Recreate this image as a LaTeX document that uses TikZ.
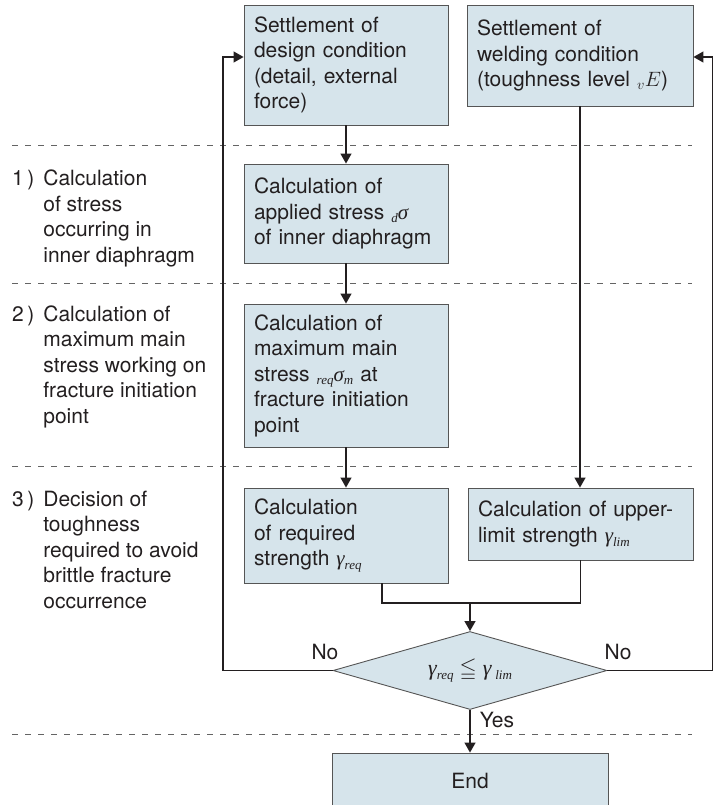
\documentclass[tikz,border=0pt]{standalone}
\usepackage{fontspec}
\usepackage{amssymb}
\setmainfont{TeX Gyre Heros}
\newfontfamily\tmsfont{Liberation Serif}
\usetikzlibrary{shapes.geometric,arrows.meta}
\definecolor{boxfill}{RGB}{214,228,235}
\definecolor{boxline}{RGB}{85,85,85}
\definecolor{ink}{RGB}{35,31,32}
\definecolor{dashgray}{RGB}{100,100,100}
\newcommand\subit[1]{\raisebox{-0.35ex}{\fontsize{13}{13}\selectfont\tmsfont\itshape #1}}
\newcommand\itg[1]{{\tmsfont\itshape #1}}
\begin{document}
\begin{tikzpicture}[x=1pt,y=-1pt,
  font=\fontsize{21}{25.5}\selectfont,
  box/.style={draw=boxline, line width=0.9pt, fill=boxfill, align=left,
    inner xsep=10pt, inner ysep=0pt, text=ink},
  conn/.style={draw=ink, line width=1.3pt},
  arr/.style={conn, -{Triangle[length=10pt,width=11pt]}},
  sep/.style={draw=dashgray, line width=0.9pt, dash pattern=on 5.5pt off 7.5pt},
  lbl/.style={inner sep=0pt, anchor=west, text=ink}]
\useasboundingbox (0,0) rectangle (721,805);

% separators
\draw[sep] (12,145) -- (692,145);
\draw[sep] (12,283) -- (692,283);
\draw[sep] (12,466) -- (692,466);
\draw[sep] (12,734) -- (692,734);

% left labels
\node[lbl] (l1) at (12,219) {\begin{tabular}{@{}l@{\hspace{9pt}}l@{}}1\,) & Calculation\\ & of stress\\ & occurring in\\ & inner diaphragm\end{tabular}};
\node[lbl] (l2) at (12,367) {\begin{tabular}{@{}l@{\hspace{9pt}}l@{}}2\,) & Calculation of\\ & maximum main\\ & stress working on\\ & fracture initiation\\ & point\end{tabular}};
\node[lbl] (l3) at (12,552) {\begin{tabular}{@{}l@{\hspace{9pt}}l@{}}3\,) & Decision of\\ & toughness\\ & required to avoid\\ & brittle fracture\\ & occurrence\end{tabular}};

% boxes
\node[box, text width=184pt, minimum height=120pt] (b1) at (346,65)
  {Settlement of\\design condition\\(detail, external\\force)};
\node[box, text width=206pt, minimum height=101pt] (b2) at (580,55.5)
  {Settlement of\\welding condition\\(toughness level ${}_{v}E$)};
\node[box, text width=184pt, minimum height=99pt] (b3) at (346,213.5)
  {Calculation of\\applied stress \subit{d}\itg{σ}\\of inner diaphragm};
\node[box, text width=184pt, minimum height=143pt] (b4) at (346,375.5)
  {Calculation of\\maximum main\\stress \subit{req}\itg{σ}\subit{m} at\\fracture initiation\\point};
\node[box, text width=184pt, minimum height=95pt] (b5) at (346,535.5)
  {Calculation\\of required\\strength \itg{γ}\subit{req}};
\node[box, text width=205pt, minimum height=72pt] (b6) at (580.5,524)
  {Calculation of upper-\\limit strength \itg{γ}\subit{lim}};
\node[box, shape=diamond, aspect=3.5, align=center, inner sep=0pt,
  minimum width=274pt, minimum height=78pt] (dia) at (470,670.5)
  {{\fontsize{22}{22}\selectfont\itg{γ}\subit{req} $\leqq$ \itg{γ}\,\subit{lim}}};
\node[box, align=center, minimum width=276pt, minimum height=56pt] (end) at (470,781) {End};

% labels
\node[text=ink, inner sep=0pt] (no1) at (325,652) {No};
\node[text=ink, inner sep=0pt] (no2) at (618,652) {No};
\node[text=ink, inner sep=0pt] (yes) at (497,720) {Yes};

% connectors
\draw[arr] (b1) -- (b3);
\draw[arr] (b3) -- (b4);
\draw[arr] (b4) -- (b5);
\draw[arr] (b2.south) -- (b2.south |- b6.north);
\coordinate (m) at (470,603);
\draw[conn] ([xshift=36pt]b5.south) |- (m) -| (b6.south);
\draw[arr] (m) -- (dia.north);
\coordinate (lc) at (223,670.5);
\coordinate (rc) at (712.5,670.5);
\draw[arr] (dia.west) -- (lc) |- ([yshift=8pt]b1.west);
\draw[arr] (dia.east) -- (rc) |- ([yshift=-1.5pt]b2.east);
\draw[arr] (dia.south) -- (end.north);
\end{tikzpicture}
\end{document}
